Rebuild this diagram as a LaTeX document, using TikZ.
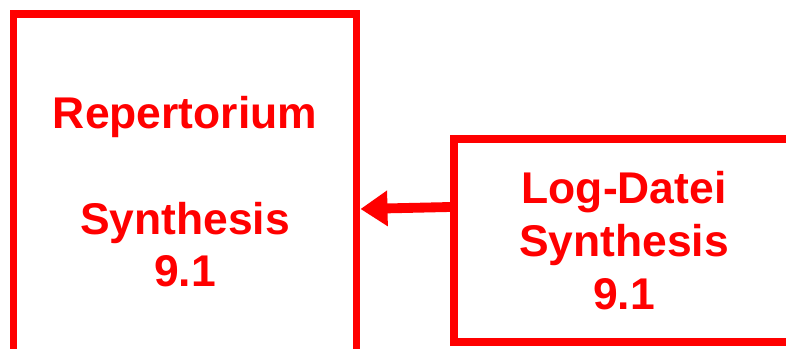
\documentclass[tikz,border=0pt]{standalone}
\usepackage{fontspec}
\setmainfont{Liberation Sans}
\usetikzlibrary{arrows.meta}

\begin{document}
\begin{tikzpicture}[
    redbox/.style={draw=red, line width=5.3pt, text=red, align=center,
        font=\fontsize{31.6}{37.5}\selectfont\bfseries, inner sep=0pt},
    redarrow/.style={draw=red, line width=7pt, -{Triangle[length=0.675cm, width=0.85cm]}}
]
    \useasboundingbox (0, 0) rectangle (19.65, -8.725);
    \node[redbox, minimum width=8.5875cm, minimum height=8.9cm] at (4.625, -4.8) (rep) {Repertorium\\[37.5pt]Synthesis\\9.1};
    \node[redbox, minimum width=8.5cm, minimum height=5.075cm] at (15.6, -6.0125) (log) {Log-Datei\\Synthesis\\9.1};
    \draw[redarrow] ([yshift=0.8375cm]log.west) -- ([yshift=-0.425cm]rep.east);
\end{tikzpicture}
\end{document}
